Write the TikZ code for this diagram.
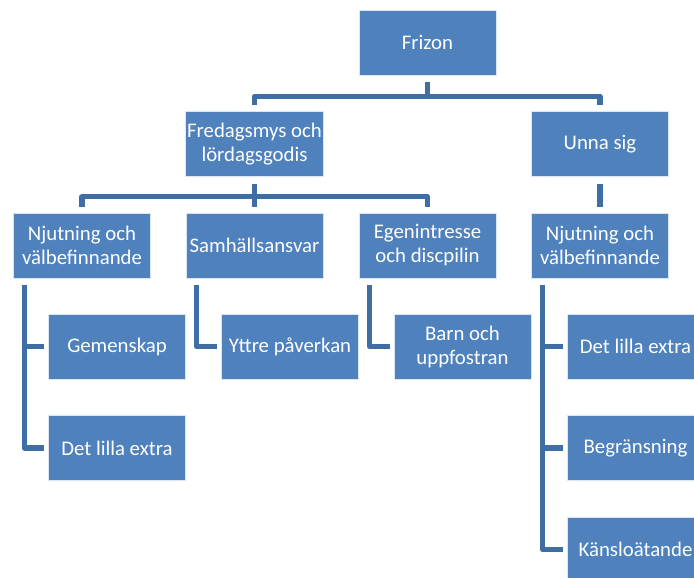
\documentclass[tikz,border=0pt]{standalone}
\usepackage{fontspec}
\setmainfont{Carlito}
\usetikzlibrary{positioning,calc}
\definecolor{boxblue}{HTML}{4F81BD}
\definecolor{edge}{HTML}{DCE6F2}
\definecolor{linkblue}{HTML}{3F6EA5}
\tikzset{
  box/.style ={draw=edge, line width=.5pt, fill=boxblue, text=white, align=center,
               minimum width=102.75pt, minimum height=48.75pt, inner sep=1pt,
               font=\fontsize{15.6pt}{18pt}\selectfont},
  ln/.style  ={draw=linkblue, line width=3.8pt, line join=round, line cap=butt},
  lnt/.style ={ln, shorten <=5.25pt, shorten >=4.5pt},
  lns/.style ={ln, shorten <=5.25pt, shorten >=3pt},
}

\begin{document}
\begin{tikzpicture}[x=0.75pt,y=-0.75pt]
    \clip (0,0) rectangle (694,578);
    \fill[white] (0,0) rectangle (694,578);
    \node[box] (fz)  at (427.5,42.5) {Frizon};
    \node[box] (fr)  at (254.5,144)  {Fredagsmys och\\lördagsgodis};
    \node[box] (un)  at (600,144)    {Unna sig};
    \node[box] (nj1) at (82,245.5)   {Njutning och\\välbefinnande};
    \node[box] (sa)  at (254.5,245.5) {Samhällsansvar};
    \node[box] (eg)  at (427.5,245.5) {Egenintresse\\och discpilin};
    \node[box] (nj2) at (600,245.5)  {Njutning och\\välbefinnande};
    \node[box] (ge)  at (117,346.5)  {Gemenskap};
    \node[box] (yt)  at (290,346.5)  {Yttre påverkan};
    \node[box] (ba)  at (462.5,346.5) {Barn och\\uppfostran};
    \node[box] (dl2) at (635.5,346.5) {Det lilla extra};
    \node[box] (dl1) at (117,448)    {Det lilla extra};
    \node[box] (be)  at (635.5,448)  {Begränsning};
    \node[box] (ka)  at (635.5,549.5) {Känsloätande};
    \draw[lnt] (fz.south) -- ++(0,21) -| (fr.north);
    \draw[lnt] (fz.south) -- ++(0,21) -| (un.north);
    \draw[lnt] (fr.south) -- ++(0,20) -| (nj1.north);
    \draw[lnt] (fr.south) -- ++(0,20) -| (sa.north);
    \draw[lnt] (fr.south) -- ++(0,20) -| (eg.north);
    \draw[lnt] (un.south) -- (nj2.north);
    \draw[lns] ([xshift=8.25pt]nj1.south west) |- (ge.west);
    \draw[lns] ([xshift=8.25pt]nj1.south west) |- (dl1.west);
    \draw[lns] ([xshift=8.25pt]sa.south west) |- (yt.west);
    \draw[lns] ([xshift=8.25pt]eg.south west) |- (ba.west);
    \draw[lns] ([xshift=8.25pt]nj2.south west) |- (dl2.west);
    \draw[lns] ([xshift=8.25pt]nj2.south west) |- (be.west);
    \draw[lns] ([xshift=8.25pt]nj2.south west) |- (ka.west);
  \end{tikzpicture}
\end{document}
